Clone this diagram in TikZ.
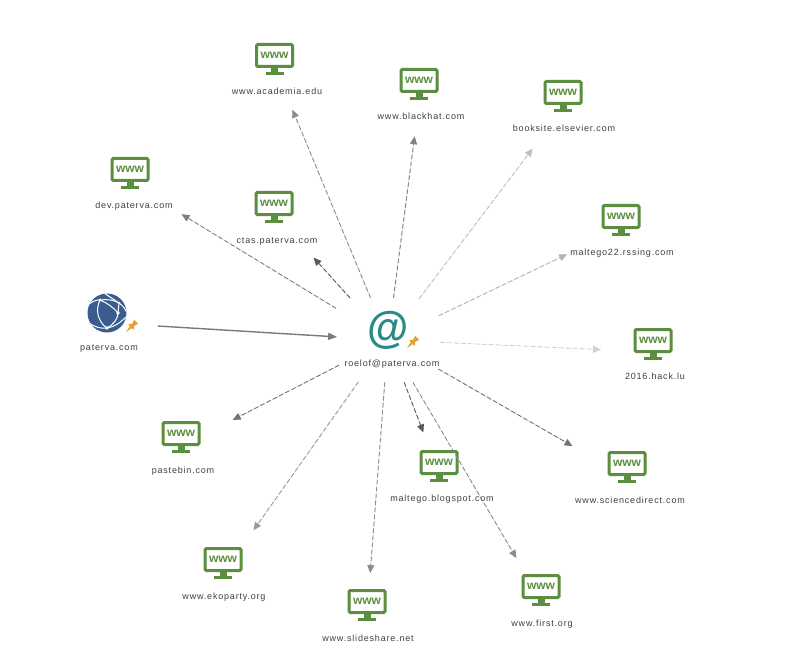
\documentclass[tikz,border=0pt]{standalone}
\usepackage{fontspec}
\setmainfont{Liberation Sans}[LetterSpace=9]
\usetikzlibrary{arrows.meta}
\definecolor{wgreen}{HTML}{5B8E3F}
\definecolor{wblue}{HTML}{3B5D8E}
\definecolor{wteal}{HTML}{2A8A85}
\definecolor{wpin}{HTML}{E5A02E}
\definecolor{wtext}{HTML}{404040}
\tikzset{
  screen/.style={draw=wgreen,line width=3pt,rounded corners=1.2pt,minimum width=36pt,minimum height=22pt,inner sep=0pt,font=\fontsize{12}{12}\bfseries\addfontfeature{LetterSpace=0},text=wgreen},
  sitelabel/.style={font=\fontsize{9}{10}\selectfont,text=wtext,inner sep=0pt,anchor=base},
  group/.style={inner sep=0pt,minimum size=1pt},
  link/.style={-{Triangle[length=8pt,width=7pt]},line width=.9pt,dash pattern=on 4.5pt off 2.5pt},
  strong/.style={-{Triangle[length=9pt,width=7pt]},line width=1.4pt,draw=black!52,fill=black!52},
  gline/.style={white,line width=1pt},
}
\newcommand{\mkpin}[2]{%
  \begin{scope}[shift={(#1,#2)},scale=1.1]
    \fill[wpin] (-5.5,5.5) -- (-2,0.3) -- (-3.5,-1.5) -- (0,-2) -- (2,-5.5) -- (5.5,-2) -- (2,0) -- (1.5,3.5) -- (-0.3,2) -- cycle;
  \end{scope}}
\newcommand{\site}[6]{%
  \node[screen] (#1-screen) at (#2,#3+12.5) {www};
  \fill[wgreen] (#2-3.5,#3+25) rectangle (#2+3.5,#3+30);
  \fill[wgreen] (#2-9,#3+29) rectangle (#2+9,#3+32);
  \node[sitelabel] (#1-label) at (#4,#5+3.3) {#6};
}
\newcommand{\linkto}[6]{%
  \node[group] (#1) at (#2,#3) {};
  \draw[link,draw=#4,fill=#4,shorten <=#5pt,shorten >=#6pt] (hub.center) -- (#1.center);
}
\begin{document}
\begin{tikzpicture}[x=1pt,y=-1pt]
\useasboundingbox (0,0) rectangle (808,671);
\fill[white] (0,0) rectangle (808,671);
\node[group] (hub) at (388,340) {};
\node[inner sep=0pt,font=\fontsize{44}{44}\bfseries\addfontfeature{LetterSpace=0},text=wteal,xscale=.96] (hubat) at (388,330) {@};
\mkpin{413}{342}
\node[sitelabel] (hublabel) at (392,366.3) {roelof@paterva.com};
% paterva
\node[circle,fill=wblue,minimum size=39pt,inner sep=0pt] (globe) at (107,313) {};
\begin{scope}
  \clip (107,313) circle (19.5);
  \draw[gline] (87,306) .. controls (92,301) and (96,300) .. (100,300) .. controls (107,299) and (114,300) .. (119,303) .. controls (122,305) and (125,308) .. (127,313);
  \draw[gline] (100,300) .. controls (95,310) and (98,322) .. (107,328);
  \draw[gline] (100,300) .. controls (107,303) and (113,307) .. (118,313) .. controls (118,319) and (113,325) .. (107,328);
  \draw[gline] (119,303) -- (118,313);
  \draw[gline] (89,323) .. controls (95,327) and (101,329) .. (107,328) .. controls (114,327) and (120,323) .. (126,317);
  \draw[gline] (104,293) -- (119,303);
  \fill[white] (100,300) circle (1.6) (119,303) circle (1.3) (118,313) circle (1.8) (107,328) circle (1.8);
\end{scope}
\mkpin{132}{326}
\node[sitelabel] (pateravalabel) at (109,350.3) {paterva.com};
\node[group] (paterva) at (108,323) {};
\draw[strong,shorten <=50pt,shorten >=51pt] (paterva.center) -- (hub.center);
% sites
\site{acad}{274.5}{43}{277}{91}{www.academia.edu}
\site{black}{419}{68}{421}{116}{www.blackhat.com}
\site{else}{563}{80}{564}{128}{booksite.elsevier.com}
\site{dev}{130}{157}{134}{205}{dev.paterva.com}
\site{ctas}{274}{191}{277}{240}{ctas.paterva.com}
\site{rss}{621}{204}{622}{252}{maltego22.rssing.com}
\site{hack}{653}{328}{655}{376}{2016.hack.lu}
\site{paste}{181}{421}{183}{470}{pastebin.com}
\site{blog}{439}{450}{442}{498}{maltego.blogspot.com}
\site{sci}{627}{451}{630}{500}{www.sciencedirect.com}
\site{eko}{223}{547}{224}{596}{www.ekoparty.org}
\site{slide}{367}{589}{368}{638}{www.slideshare.net}
\site{first}{541}{574}{542}{623}{www.first.org}
% connectors
\linkto{acad}{276}{70}{black!45}{45.7}{43}
\linkto{black}{420}{95}{black!50}{42.4}{41.6}
\linkto{else}{564}{107}{black!25}{51.6}{52}
\linkto{dev}{132}{184}{black!50}{61}{58}
\linkto{ctas}{276}{216}{black!65}{56.6}{56}
\linkto{rss}{622}{228}{black!30}{56.3}{60.8}
\linkto{hack}{654}{352}{black!18}{52.1}{53}
\linkto{sci}{628}{478}{black!55}{58.3}{64}
\linkto{blog}{440}{476}{black!65}{45.3}{46.6}
\linkto{first}{541}{600}{black!45}{49.2}{48.6}
\linkto{slide}{367}{615}{black!45}{42.2}{42}
\linkto{eko}{224}{572}{black!40}{51.4}{51}
\linkto{paste}{182}{446}{black!55}{55}{57}
\end{tikzpicture}
\end{document}
